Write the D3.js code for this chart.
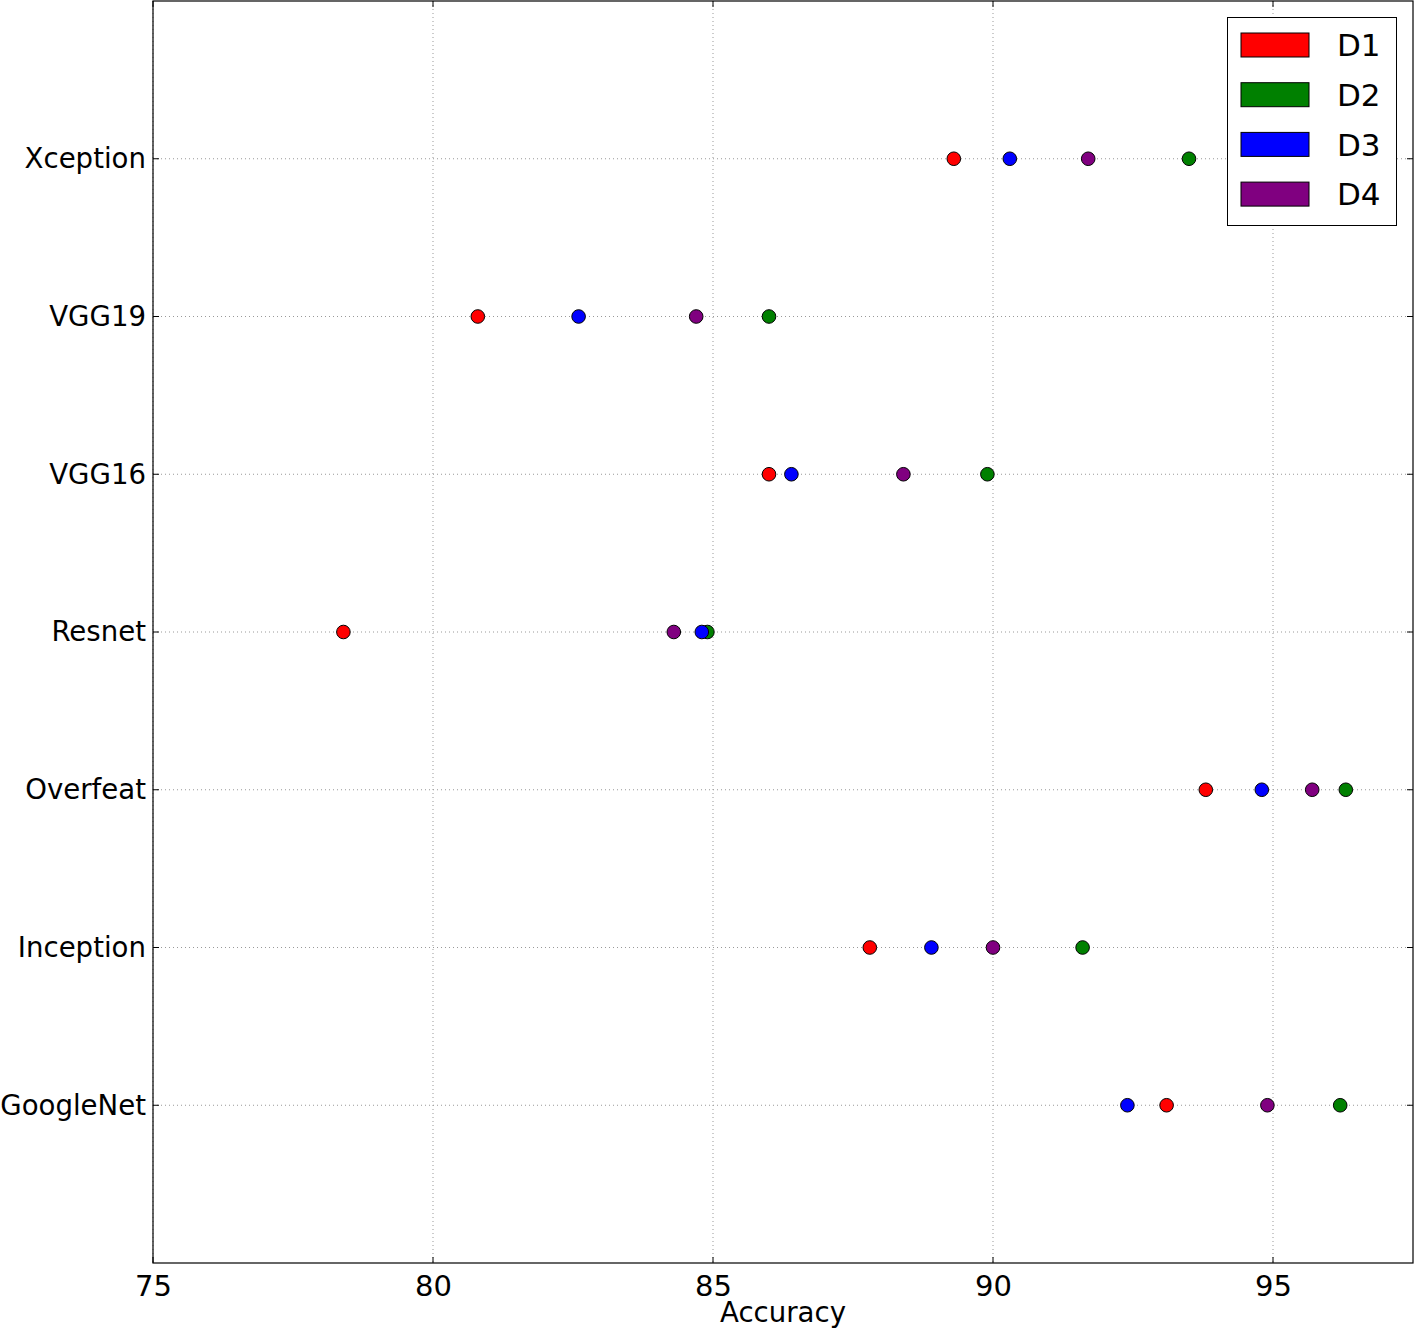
<!DOCTYPE html>
<html><head><meta charset="utf-8">
<script src="https://cdn.jsdelivr.net/npm/d3@7"></script>
<style>body{margin:0;background:#fff;} text{font-family:"DejaVu Sans",sans-serif;}</style>
</head><body>
<svg id="chart" width="1415" height="1329"></svg>
<script>
const categories = ["GoogleNet","Inception","Overfeat","Resnet","VGG16","VGG19","Xception"];
const seriesNames = ["D1","D2","D3","D4"];
const seriesColors = ["#ff0000","#008000","#0000ff","#800080"];
const D1 = [93.1, 87.8, 93.8, 78.4, 86.0, 80.8, 89.3];
const D2 = [96.2, 91.6, 96.3, 84.9, 89.9, 86.0, 93.5];
const D3 = [92.4, 88.9, 94.8, 84.8, 86.4, 82.6, 90.3];
const D4 = [94.9, 90.0, 95.7, 84.3, 88.4, 84.7, 91.7];
const xTicks = [75, 80, 85, 90, 95];
const seriesValues = [D1, D2, D3, D4];

const svg = d3.select("#chart");
const L = 153, R = 1413, T = 1, B = 1263;
const x = d3.scaleLinear().domain([75, 97.5]).range([L, R]);
const y = d3.scaleLinear().domain([0, 8]).range([B, T]);

const g = svg.append("g");
g.selectAll(".gx").data(xTicks).join("line")
  .attr("x1", d => x(d)).attr("x2", d => x(d)).attr("y1", T).attr("y2", B)
  .attr("stroke", "#999").attr("stroke-width", 1).attr("stroke-dasharray", "1,3");
g.selectAll(".gy").data(categories).join("line")
  .attr("x1", L).attr("x2", R).attr("y1", (d, i) => y(i + 1)).attr("y2", (d, i) => y(i + 1))
  .attr("stroke", "#999").attr("stroke-width", 1).attr("stroke-dasharray", "1,3");

const xAxis = d3.axisBottom(x).tickValues(xTicks).tickSize(0).tickPadding(12);
const xa = svg.append("g").attr("transform", `translate(0,${B})`).call(xAxis);
xa.select(".domain").remove();
xa.selectAll("text").attr("font-size", 29).attr("fill", "#000").attr("font-family", "DejaVu Sans");

const yAxis = d3.axisLeft(y).tickValues(categories.map((c, i) => i + 1)).tickFormat(d => categories[d - 1]).tickSize(0).tickPadding(7);
const ya = svg.append("g").attr("transform", `translate(${L},0)`).call(yAxis);
ya.select(".domain").remove();
ya.selectAll("text").attr("font-size", 27.6).attr("fill", "#000").attr("font-family", "DejaVu Sans");

const tk = svg.append("g").attr("stroke", "#000").attr("stroke-width", 1);
xTicks.forEach(v => {
  tk.append("line").attr("x1", x(v)).attr("x2", x(v)).attr("y1", B).attr("y2", B - 6);
  tk.append("line").attr("x1", x(v)).attr("x2", x(v)).attr("y1", T).attr("y2", T + 6);
});
categories.forEach((c, i) => {
  tk.append("line").attr("x1", L).attr("x2", L + 6).attr("y1", y(i + 1)).attr("y2", y(i + 1));
  tk.append("line").attr("x1", R).attr("x2", R - 6).attr("y1", y(i + 1)).attr("y2", y(i + 1));
});

svg.append("rect").attr("x", L).attr("y", T).attr("width", R - L).attr("height", B - T)
  .attr("fill", "none").attr("stroke", "#000").attr("stroke-width", 1.2);

seriesValues.forEach((vals, si) => {
  svg.append("g").selectAll("circle").data(vals).join("circle")
    .attr("cx", d => x(d)).attr("cy", (d, i) => y(i + 1)).attr("r", 6.8)
    .attr("fill", seriesColors[si]).attr("stroke", "#000").attr("stroke-width", 1);
});

svg.append("text").attr("x", (L + R) / 2).attr("y", 1322).attr("text-anchor", "middle")
  .attr("font-size", 27.6).text("Accuracy");

const lg = svg.append("g");
lg.append("rect").attr("x", 1227.5).attr("y", 17.5).attr("width", 169).attr("height", 208)
  .attr("fill", "#fff").attr("stroke", "#000").attr("stroke-width", 1);
seriesNames.forEach((n, i) => {
  const cy = 45 + i * 49.7;
  lg.append("rect").attr("x", 1241).attr("y", cy - 12).attr("width", 68).attr("height", 24)
    .attr("fill", seriesColors[i]).attr("stroke", "#000").attr("stroke-width", 1);
  lg.append("text").attr("x", 1337).attr("y", cy).attr("dy", "0.36em")
    .attr("font-size", 31).text(n);
});
</script>
</body></html>
